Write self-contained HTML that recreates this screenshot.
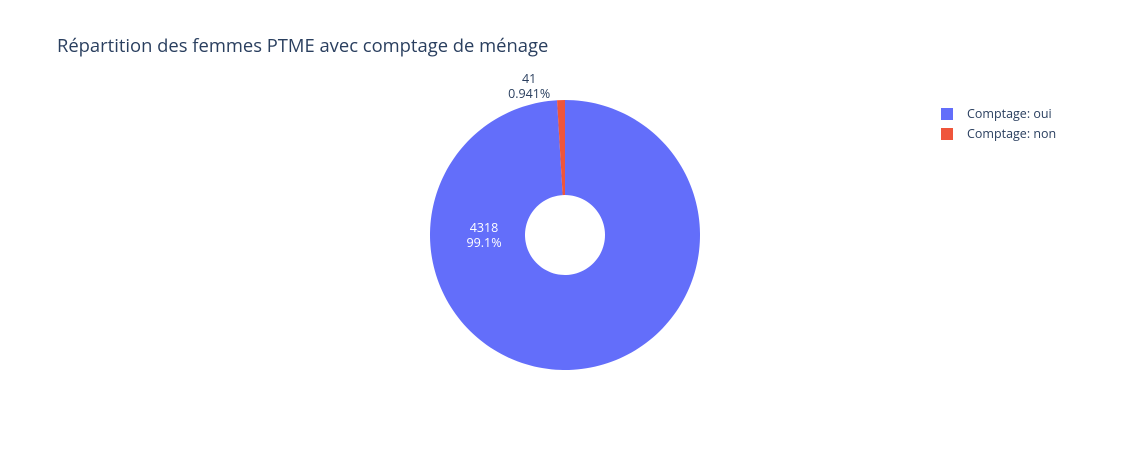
<!DOCTYPE html>
<html><head><meta charset="utf-8">
<style>
body{margin:0;background:#fff;}
svg{display:block;font-family:"Open Sans","Liberation Sans",sans-serif;}
</style></head>
<body>
<svg id="chart" width="1129" height="450" viewBox="0 0 1129 450">
<rect width="1129" height="450" fill="#fff"/>
<text x="57" y="52" font-size="18.4" fill="#2a3f5f">Répartition des femmes PTME avec comptage de ménage</text>
<g id="slices"></g>
<g id="legend"></g>
</svg>
<script>
const labels = ["Comptage: oui", "Comptage: non"];
const values = [4318, 41];
const colors = ["#636efa", "#EF553B"];

const svgNS = "http://www.w3.org/2000/svg";
const cx = 565, cy = 235, R = 135, r = 40;
const total = values.reduce((a,b)=>a+b,0);
const g = document.getElementById('slices');
function pt(a, rad){ return [cx + rad*Math.sin(a), cy - rad*Math.cos(a)]; }
let start = 0;
values.forEach((v,i)=>{
  const frac = v/total, end = start + frac*2*Math.PI;
  const large = frac > 0.5 ? 1 : 0;
  const [x1,y1]=pt(start,R),[x2,y2]=pt(end,R),[x3,y3]=pt(end,r),[x4,y4]=pt(start,r);
  const p = document.createElementNS(svgNS,'path');
  p.setAttribute('d',`M${x1},${y1}A${R},${R} 0 ${large} 1 ${x2},${y2}L${x3},${y3}A${r},${r} 0 ${large} 0 ${x4},${y4}Z`);
  p.setAttribute('fill',colors[i]);
  
  
  g.appendChild(p);
  const mid = (start+end)/2;
  const pct = frac*100;
  const pctStr = pct >= 10 ? pct.toFixed(1)+'%' : pct.toPrecision(3)+'%';
  let tx, ty, fill;
  if (frac > 0.05) {
    const [mx,my] = pt(-Math.PI/2, 81);
    tx = mx; ty = my; fill = '#fff';
  } else {
    const [mx,my] = pt(mid,R+28);
    tx = mx - 31; ty = my + 14; fill = '#2a3f5f';
  }
  const t = document.createElementNS(svgNS,'text');
  t.setAttribute('x',tx); t.setAttribute('y',ty-3);
  t.setAttribute('text-anchor','middle');
  t.setAttribute('font-size','12.5');
  t.setAttribute('fill',fill);
  
  
  const s1 = document.createElementNS(svgNS,'tspan');
  s1.setAttribute('x',tx); s1.textContent = v;
  const s2 = document.createElementNS(svgNS,'tspan');
  s2.setAttribute('x',tx); s2.setAttribute('dy','15'); s2.textContent = pctStr;
  t.appendChild(s1); t.appendChild(s2);
  g.appendChild(t);
  start = end;
});
const lg = document.getElementById('legend');
labels.forEach((lab,i)=>{
  const y = 114 + i*20;
  const rc = document.createElementNS(svgNS,'rect');
  rc.setAttribute('x',941); rc.setAttribute('y',y-6);
  rc.setAttribute('width',12); rc.setAttribute('height',12);
  rc.setAttribute('fill',colors[i]);
  
  
  lg.appendChild(rc);
  const t = document.createElementNS(svgNS,'text');
  t.setAttribute('x',967); t.setAttribute('y',y+4);
  t.setAttribute('font-size','12.5'); t.setAttribute('fill','#2a3f5f');
  
  
  t.textContent = lab;
  lg.appendChild(t);
});
</script>
</body></html>
